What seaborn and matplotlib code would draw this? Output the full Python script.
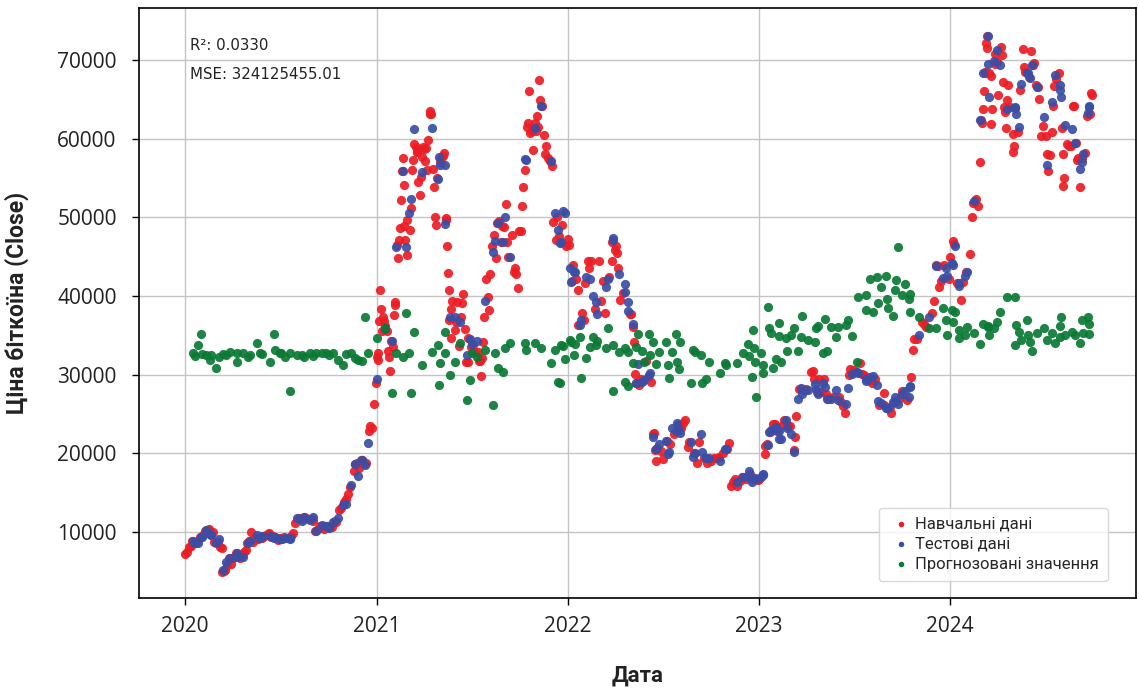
import matplotlib
matplotlib.use("Agg")
import matplotlib.pyplot as plt
import seaborn as sns
import pandas as pd
import matplotlib.dates as mdates

# ---------------- data ----------------
train_dates = [
    "2020-01-01","2020-01-05","2020-01-08","2020-01-12","2020-01-15","2020-01-19","2020-01-22","2020-01-29",
    "2020-02-05","2020-02-09","2020-02-13","2020-02-15","2020-02-19","2020-02-23","2020-02-26","2020-03-04",
    "2020-03-08","2020-03-11","2020-03-12","2020-03-16","2020-03-18","2020-03-22","2020-03-25","2020-03-29",
    "2020-04-01","2020-04-05","2020-04-08","2020-04-12","2020-04-15","2020-04-19","2020-04-23","2020-04-26",
    "2020-04-29","2020-05-03","2020-05-07","2020-05-10","2020-05-13","2020-05-20","2020-05-27","2020-05-31",
    "2020-06-03","2020-06-07","2020-06-10","2020-06-14","2020-06-17","2020-06-24","2020-06-27","2020-07-01",
    "2020-07-05","2020-07-08","2020-07-14","2020-07-22","2020-07-26","2020-07-29","2020-08-05","2020-08-09",
    "2020-08-16","2020-08-19","2020-08-23","2020-08-30","2020-09-02","2020-09-05","2020-09-12","2020-09-15",
    "2020-09-22","2020-09-24","2020-09-30","2020-10-04","2020-10-07","2020-10-13","2020-10-16","2020-10-21",
    "2020-10-25","2020-10-31","2020-11-04","2020-11-07","2020-11-11","2020-11-18","2020-11-21","2020-11-25",
    "2020-11-29","2020-12-02","2020-12-05","2020-12-12","2020-12-17","2020-12-20","2020-12-23","2020-12-27",
    "2020-12-30",
    "2021-01-03","2021-01-06","2021-01-08","2021-01-10","2021-01-13","2021-01-15","2021-01-20","2021-01-22",
    "2021-01-27","2021-02-01","2021-02-03","2021-02-06","2021-02-10","2021-02-13","2021-02-17","2021-02-21",
    "2021-02-23","2021-02-25","2021-02-28","2021-03-05","2021-03-10","2021-03-14","2021-03-17","2021-03-20",
    "2021-03-24","2021-03-31","2021-04-03","2021-04-07","2021-04-10","2021-04-13","2021-04-14","2021-04-18",
    "2021-04-21","2021-04-25","2021-05-03","2021-05-07","2021-05-09","2021-05-13","2021-05-16","2021-05-19",
    "2021-05-23","2021-05-26","2021-05-30","2021-06-03","2021-06-07","2021-06-13","2021-06-15","2021-06-18",
    "2021-06-21","2021-06-25","2021-07-01","2021-07-05","2021-07-08","2021-07-15","2021-07-18","2021-07-20",
    "2021-07-24","2021-07-30","2021-08-03","2021-08-06","2021-08-09","2021-08-13","2021-08-18","2021-08-23",
    "2021-08-26","2021-09-01","2021-09-06","2021-09-07","2021-09-10","2021-09-16","2021-09-20","2021-09-22",
    "2021-09-28","2021-10-01","2021-10-05","2021-10-08","2021-10-15","2021-10-18","2021-10-20","2021-10-24",
    "2021-10-27","2021-11-03","2021-11-06","2021-11-08","2021-11-10","2021-11-16","2021-11-19","2021-11-24",
    "2021-11-28","2021-12-04","2021-12-10","2021-12-12","2021-12-21","2021-12-29",
    "2022-01-02","2022-01-09","2022-01-12","2022-01-17","2022-01-21","2022-01-29","2022-02-02","2022-02-09",
    "2022-02-15","2022-02-22","2022-03-01","2022-03-05","2022-03-09","2022-03-13","2022-03-22","2022-03-26",
    "2022-04-02","2022-04-05","2022-04-11","2022-04-16","2022-04-30","2022-05-03","2022-05-09","2022-05-12",
    "2022-05-18","2022-05-21","2022-05-30","2022-06-03","2022-06-10","2022-06-13","2022-06-18","2022-06-21",
    "2022-06-28","2022-07-02","2022-07-09","2022-07-16","2022-07-23","2022-07-30","2022-08-06","2022-08-10",
    "2022-08-14","2022-08-19","2022-08-21","2022-08-31","2022-09-06","2022-09-09","2022-09-18","2022-09-25",
    "2022-10-02","2022-10-08","2022-10-13","2022-10-17","2022-10-25","2022-11-01","2022-11-05","2022-11-09",
    "2022-11-13","2022-11-17","2022-11-21","2022-11-26","2022-12-01","2022-12-07","2022-12-15","2022-12-30",
    "2023-01-02","2023-01-13","2023-01-14","2023-01-16","2023-01-22","2023-01-29","2023-02-01","2023-02-05",
    "2023-02-16","2023-02-19","2023-02-27","2023-03-02","2023-03-09","2023-03-12","2023-03-14","2023-03-20",
    "2023-03-26","2023-03-30","2023-04-02","2023-04-11","2023-04-14","2023-04-17","2023-04-22","2023-04-27",
    "2023-05-01","2023-05-05","2023-05-09","2023-05-14","2023-05-23","2023-06-04","2023-06-08","2023-06-12",
    "2023-06-15","2023-06-22","2023-06-24","2023-07-02","2023-07-13","2023-07-17","2023-07-21","2023-07-30",
    "2023-08-05","2023-08-12","2023-08-19","2023-08-28","2023-08-29","2023-09-08","2023-09-11","2023-09-17",
    "2023-09-28","2023-10-01","2023-10-11","2023-10-20","2023-10-23","2023-10-25","2023-10-30","2023-11-09",
    "2023-11-13","2023-11-16","2023-11-28","2023-12-02","2023-12-05","2023-12-09","2023-12-12","2023-12-16",
    "2023-12-22","2023-12-30",
    "2024-01-02","2024-01-08","2024-01-10","2024-01-14","2024-01-23","2024-01-26","2024-02-01","2024-02-08",
    "2024-02-12","2024-02-14","2024-02-20","2024-02-24","2024-02-27","2024-03-01","2024-03-05","2024-03-08",
    "2024-03-11","2024-03-13","2024-03-19","2024-03-20","2024-03-27","2024-04-02","2024-04-08","2024-04-12",
    "2024-04-13","2024-04-17","2024-04-22","2024-04-26","2024-05-01","2024-05-10","2024-05-15","2024-05-20",
    "2024-05-24","2024-06-05","2024-06-10","2024-06-13","2024-06-19","2024-06-24","2024-06-27","2024-07-03",
    "2024-07-07","2024-07-10","2024-07-17","2024-07-22","2024-07-28","2024-08-04","2024-08-05","2024-08-12",
    "2024-08-16","2024-08-25","2024-08-29","2024-09-03","2024-09-06","2024-09-16","2024-09-19","2024-09-27",
    "2024-09-29",
]
train_close = [
    7200, 7410, 8080, 8190, 8820, 8700, 8680, 9390,
    9610, 10170, 10240, 10370, 9600, 9980, 8780, 8760,
    8040, 7920, 4970, 5010, 5230, 5830, 6680, 5880,
    6640, 6780, 7300, 6910, 6640, 7120, 7500, 7700,
    8660, 8900, 9950, 8760, 9270, 9080, 9200, 9450,
    9670, 9740, 9890, 9390, 9450, 9280, 9000, 9230,
    9080, 9430, 9250, 9530, 9930, 11100, 11750, 11680,
    11850, 11760, 11680, 11710, 11400, 10130, 10440, 10790,
    10420, 10730, 10780, 10680, 10670, 11430, 11320, 12820,
    13030, 13800, 14140, 14830, 15700, 17800, 18680, 18730,
    18180, 19200, 19150, 18800, 22800, 23500, 23240, 26300,
    28990,
    32780, 36770, 40800, 38350, 37320, 36830, 35550, 33000,
    30430, 33540, 37620, 39270, 44800, 47170, 52150, 57540,
    48900, 47100, 45200, 48400, 56000, 59300, 58900, 58300,
    52800, 58900, 57100, 56000, 59800, 63500, 63100, 56200,
    53800, 49000, 57000, 57800, 58200, 49700, 46400, 37000,
    34700, 39300, 35700, 39200, 33600, 39100, 40200, 35800,
    31600, 31600, 33500, 33800, 32900, 31800, 31800, 29800,
    34200, 42200, 38200, 42800, 46400, 47800, 44800, 49500,
    46800, 48800, 51700, 46800, 44900, 47700, 43000, 43600,
    41000, 48200, 51500, 53800, 61500, 62000, 66000, 61000,
    58500, 62900, 61500, 67500, 64900, 60400, 58100, 57600,
    57200, 49400, 47100, 50100, 49000, 46400,
    47300, 41900, 43900, 42200, 36300, 37900, 36900, 44400,
    44500, 38400, 44400, 39400, 41900, 37800, 42400, 44500,
    45800, 45500, 39500, 40400, 37700, 37700, 30100, 28900,
    28700, 29400, 31700, 29700, 29100, 22500, 19000, 20700,
    20300, 19300, 21600, 21200, 22500, 23600, 23200, 23900,
    24300, 20800, 21500, 20000, 18800, 21400, 19400, 18800,
    19000, 19400, 19400, 19500, 20100, 20500, 21300, 15900,
    16300, 16700, 15800, 16500, 17000, 16800, 17400, 16600,
    16700, 19900, 20900, 21200, 22700, 23700, 23700, 22900,
    23600, 24300, 23500, 23500, 20400, 22100, 24700, 28200,
    28000, 28000, 28200, 30300, 30500, 29400, 27800, 29500,
    27800, 29500, 27600, 26900, 27200, 27100, 26500, 26000,
    25100, 29900, 30700, 30600, 31500, 30100, 29900, 29300,
    29000, 29400, 26100, 26100, 27700, 25900, 25100, 26500,
    27000, 27900, 26800, 29700, 33100, 34500, 34500, 36700,
    36500, 36100, 37800, 39400, 44000, 43800, 41200, 41900,
    44000, 42100,
    44900, 47000, 46600, 41700, 39500, 41800, 43100, 45300,
    50000, 51800, 52300, 51500, 57000, 62400, 63800, 68300,
    72100, 73100, 61900, 67900, 69500, 65500, 71600, 67200,
    64000, 61300, 66800, 64000, 58300, 60800, 66200, 71400,
    68500, 71100, 69600, 66800, 65000, 60300, 61600, 60300,
    55900, 57900, 64100, 67600, 68300, 58100, 54000, 59300,
    59000, 64200, 59400, 57500, 53900, 58200, 62900, 65800,
    65600,
]

# additional training days in the dense, volatile stretches
train_extra_dates = [
    "2021-01-02","2021-01-04","2021-01-11","2021-01-18","2021-01-25","2021-01-29","2021-02-05","2021-02-09",
    "2021-02-15","2021-02-19","2021-02-22","2021-03-01","2021-03-07","2021-03-12","2021-03-19","2021-03-22",
    "2021-03-26","2021-03-29","2021-04-01","2021-04-05","2021-04-15","2021-04-23","2021-04-27","2021-05-05",
    "2021-05-14","2021-05-18","2021-05-20","2021-05-24","2021-06-01","2021-06-11","2021-06-24","2021-07-13",
    "2021-07-22","2021-07-26","2021-08-01","2021-08-20","2021-08-28","2021-09-24","2021-10-03","2021-10-12",
    "2021-10-22","2021-10-30","2021-11-01","2021-11-13","2021-11-21","2021-12-02","2021-12-16",
    "2022-01-03","2022-01-20","2022-02-04","2022-02-10","2022-03-27","2022-04-03","2022-04-07","2022-05-06",
    "2022-05-08","2022-06-15","2022-06-16",
    "2024-03-02","2024-03-06","2024-03-09","2024-03-12","2024-03-17","2024-03-22","2024-03-28","2024-04-01",
    "2024-04-10","2024-04-15","2024-04-20","2024-04-30","2024-05-02","2024-05-22","2024-06-01","2024-06-08",
    "2024-06-17","2024-07-04","2024-07-14","2024-07-19","2024-08-02","2024-08-07","2024-08-20","2024-08-23",
    "2024-09-01","2024-09-10","2024-09-25",
]
train_extra_close = [
    32200, 31900, 35500, 36200, 32300, 34300, 38900, 46500,
    48700, 55900, 54100, 49600, 51200, 57300, 58300, 54500,
    55100, 57700, 58700, 58800, 63100, 50000, 55000, 57500,
    49900, 42900, 40800, 38400, 36700, 37300, 34700, 32900,
    32100, 37300, 39900, 49300, 48900, 42800, 48200, 56000,
    60700, 62000, 61000, 64100, 59000, 56500, 47600,
    46500, 40700, 41600, 43500, 46800, 46400, 43500, 36000,
    34100, 22600, 20400,
    62000, 66100, 68500, 71500, 68400, 63800, 70700, 69700,
    70600, 63400, 64900, 60600, 59100, 69100, 67800, 69300,
    66500, 58000, 60800, 66700, 61400, 55000, 59000, 64100,
    57300, 57600, 63100,
]

test_dates = [
    "2020-01-16","2020-01-21","2020-01-26","2020-01-31","2020-02-02","2020-02-11","2020-02-17","2020-02-20",
    "2020-03-01","2020-03-06","2020-03-14","2020-03-20","2020-03-26","2020-04-09","2020-04-10","2020-04-21",
    "2020-04-30","2020-05-04","2020-05-17","2020-05-23","2020-05-28","2020-06-12","2020-06-19","2020-06-20",
    "2020-06-30","2020-07-03","2020-07-10","2020-07-19","2020-07-20","2020-08-01","2020-08-11","2020-08-16",
    "2020-08-26","2020-09-01","2020-09-08","2020-09-18","2020-09-27","2020-10-03","2020-10-10","2020-10-19",
    "2020-10-29","2020-11-03","2020-11-14","2020-11-20","2020-11-27","2020-12-04","2020-12-09","2020-12-16",
    "2021-01-01","2021-01-17","2021-01-30","2021-02-08","2021-02-20","2021-02-27","2021-03-03","2021-03-08",
    "2021-03-13","2021-03-28","2021-04-16","2021-04-28","2021-04-30","2021-05-02","2021-05-11","2021-05-12",
    "2021-05-21","2021-05-31","2021-06-10","2021-06-22","2021-06-28","2021-07-02","2021-07-11","2021-07-27",
    "2021-08-11","2021-08-15","2021-08-21","2021-08-30","2021-09-03","2021-09-13","2021-10-11","2021-10-14",
    "2021-10-31","2021-11-12","2021-12-01","2021-12-07","2021-12-14","2021-12-17","2021-12-20","2021-12-23",
    "2021-12-27",
    "2022-01-05","2022-01-08","2022-01-14","2022-01-15","2022-01-24","2022-01-27","2022-02-06","2022-02-12",
    "2022-02-18","2022-02-25","2022-02-27","2022-03-16","2022-03-19","2022-03-28","2022-03-29","2022-04-09",
    "2022-04-20","2022-04-21","2022-04-26","2022-04-27","2022-05-05","2022-05-11","2022-05-15","2022-05-24",
    "2022-05-26","2022-06-05","2022-06-08","2022-06-14","2022-06-19","2022-06-24","2022-07-07","2022-07-11",
    "2022-07-13","2022-07-20","2022-07-27","2022-07-29","2022-08-02","2022-08-04","2022-08-24","2022-08-28",
    "2022-09-01","2022-09-12","2022-09-14","2022-09-22","2022-09-28","2022-10-20","2022-10-28","2022-10-30",
    "2022-11-20","2022-12-03","2022-12-11","2022-12-14","2022-12-19","2022-12-21","2022-12-23","2022-12-25",
    "2022-12-27",
    "2023-01-06","2023-01-09","2023-01-10","2023-01-19","2023-01-20","2023-01-25","2023-01-28","2023-02-03",
    "2023-02-08","2023-02-09","2023-02-13","2023-02-22","2023-02-24","2023-03-04","2023-03-10","2023-03-18",
    "2023-03-23","2023-03-24","2023-04-06","2023-04-19","2023-04-20","2023-04-24","2023-05-03","2023-05-07",
    "2023-05-11","2023-05-19","2023-05-28","2023-06-01","2023-06-17","2023-06-20","2023-06-28","2023-07-07",
    "2023-07-09","2023-07-25","2023-07-26","2023-08-02","2023-08-08","2023-08-16","2023-08-17","2023-08-23",
    "2023-09-01","2023-09-04","2023-09-05","2023-09-14","2023-09-19","2023-09-21","2023-09-24","2023-10-02",
    "2023-10-08","2023-10-15","2023-10-17","2023-10-18","2023-11-04","2023-11-23","2023-12-06","2023-12-19",
    "2023-12-25","2023-12-26",
    "2024-01-05","2024-01-07","2024-01-11","2024-01-18","2024-01-19","2024-01-31","2024-02-03","2024-02-16",
    "2024-02-28","2024-03-04","2024-03-14","2024-03-15","2024-03-16","2024-03-25","2024-03-31","2024-04-07",
    "2024-04-19","2024-05-04","2024-05-05","2024-05-07","2024-05-12","2024-05-17","2024-05-28","2024-05-30",
    "2024-06-02","2024-06-07","2024-06-16","2024-06-30","2024-07-05","2024-07-15","2024-07-21","2024-07-29",
    "2024-07-30","2024-08-01","2024-08-08","2024-08-22","2024-08-27","2024-09-05","2024-09-09","2024-09-12",
    "2024-09-21","2024-09-23","2024-09-24",
]
test_close = [
    8800, 8660, 8600, 9350, 9380, 10250, 9700, 9600,
    8550, 9120, 5200, 6200, 6750, 7300, 6860, 6850,
    8650, 8900, 9670, 9180, 9550, 9470, 9300, 9350,
    9140, 9080, 9270, 9200, 9160, 11800, 11400, 11850,
    11470, 11950, 10130, 10940, 10750, 10550, 11300, 11750,
    13450, 13550, 16000, 18650, 17150, 19150, 18550, 21300,
    29400, 35800, 34300, 46200, 55900, 46200, 50500, 52300,
    61200, 55800, 61400, 54900, 57700, 56600, 56700, 49100,
    37300, 37300, 36700, 32500, 34500, 33900, 34250, 39300,
    45600, 47000, 49300, 46800, 50000, 44900, 57400, 57300,
    61300, 64100, 57200, 50600, 48400, 46700, 46900, 50800,
    50600,
    43500, 41800, 43000, 43100, 36300, 37000, 42400, 42200,
    40000, 39200, 37700, 41100, 42200, 47100, 47400, 42800,
    41500, 40500, 38100, 39200, 36500, 29000, 31300, 29100,
    29300, 29900, 30200, 22100, 20500, 21200, 21600, 19900,
    20200, 23200, 22900, 23800, 23000, 22600, 21400, 19600,
    20100, 22400, 20200, 19400, 19400, 19000, 20600, 20600,
    16300, 17000, 17100, 17800, 16400, 16800, 16800, 16850,
    16700,
    16950, 17200, 17400, 21100, 22700, 23000, 23000, 23400,
    22900, 21800, 21800, 24200, 23200, 22400, 20200, 26900,
    28300, 27500, 28000, 28800, 28200, 27500, 29000, 28400,
    26900, 26900, 28100, 26800, 26300, 28300, 30100, 30300,
    30200, 29200, 29400, 29700, 29800, 28700, 26600, 26400,
    25800, 25800, 25800, 26500, 27200, 26600, 26300, 27500,
    27900, 27200, 28500, 28400, 35000, 37300, 43800, 42300,
    43600, 42500,
    44200, 43900, 46300, 41300, 41600, 42600, 43000, 52100,
    62400, 68300, 73100, 69500, 65300, 69900, 71300, 69400,
    63800, 63900, 64000, 63100, 61500, 67000, 68400, 68300,
    67700, 69300, 66600, 62700, 56700, 64700, 68100, 66800,
    66200, 65300, 61700, 61200, 59400, 56200, 57000, 58100,
    63300, 64000, 64200,
]
pred_close = [
    32700, 32400, 33760, 35150, 32600, 32490, 31860, 32500,
    30800, 32280, 32650, 32500, 32900, 32700, 31650, 32700,
    32300, 32500, 33980, 32700, 32600, 31650, 35150, 33120,
    32700, 32800, 32300, 27950, 32700, 32500, 32500, 32200,
    32790, 32400, 32700, 32700, 32700, 32500, 32700, 31900,
    31220, 32600, 32700, 32100, 31900, 31800, 37360, 32700,
    34650, 35930, 27660, 32740, 32230, 37830, 32740, 27660,
    35420, 31220, 32870, 33760, 28690, 31470, 35420, 32740,
    29960, 31600, 34010, 26810, 29320, 32740, 32230, 33120,
    26170, 32740, 30840, 30330, 33380, 34010, 34010, 33120,
    34010, 33380, 31470, 33120, 29070, 29000, 33760, 33700,
    31980,
    34390, 34200, 32490, 33890, 34820, 29610, 32100, 33540,
    34820, 33760, 34310, 33380, 35930, 33760, 27920, 32910,
    33420, 29100, 32870, 28560, 31470, 33540, 35160, 33040,
    31600, 35160, 32490, 34140, 31350, 32870, 34180, 31220,
    29610, 32870, 35160, 31650, 30710, 34180, 28940, 33120,
    32910, 32490, 28940, 29450, 31600, 30240, 31470, 31220,
    31470, 32740, 33890, 32360, 29740, 35670, 33380, 31650,
    27190,
    32740, 31220, 30240, 38630, 35960, 35290, 30840, 31980,
    34900, 36560, 31600, 34650, 33000, 35040, 35930, 33040,
    34820, 37480, 34400, 34180, 35930, 36180, 32740, 37070,
    33040, 36090, 34820, 36090, 36310, 36940, 34900, 31600,
    39890, 40110, 38210, 42150, 38000, 42370, 39060, 41110,
    42570, 39610, 38430, 37450, 40750, 42020, 46180, 40110,
    41510, 39610, 38000, 40240, 37360, 35870, 35870, 38430,
    36940, 35040,
    38210, 36720, 38000, 34610, 35670, 35040, 36090, 35250,
    33890, 36430, 36000, 36180, 35040, 35870, 36720, 38000,
    39900, 39900, 33760, 36310, 35460, 34400, 36940, 35040,
    34180, 33040, 35250, 35870, 34400, 35330, 33980, 36180,
    34820, 37360, 35040, 35460, 35040, 34060, 36940, 35330,
    37360, 36430, 35220,
]

r2_text = "R²: 0.0330"
mse_text = "MSE: 324125455.01"
labels = ["Навчальні дані", "Тестові дані", "Прогнозовані значення"]
colors = ["#ec1c24", "#3a4ea6", "#0b7a35"]

# ---------------- plot ----------------
sns.set_theme(style="whitegrid")
plt.rcParams["font.family"] = ["Open Sans", "DejaVu Sans"]
NARROW = ["Roboto", "DejaVu Sans"]

train = pd.DataFrame({"Date": pd.to_datetime(train_dates + train_extra_dates),
                      "Close": train_close + train_extra_close}).sort_values("Date")
test = pd.DataFrame({"Date": pd.to_datetime(test_dates), "Close": test_close})
pred = pd.DataFrame({"Date": pd.to_datetime(test_dates), "Close": pred_close})

fig, ax = plt.subplots(figsize=(11.39, 6.93), dpi=100)
fig.subplots_adjust(left=0.122, right=0.9974, top=0.988, bottom=0.137)

kw = dict(s=44, linewidth=0, alpha=0.92, ax=ax)
sns.scatterplot(data=train, x="Date", y="Close", color=colors[0], label=labels[0], **kw)
sns.scatterplot(data=test, x="Date", y="Close", color=colors[1], label=labels[1], **kw)
sns.scatterplot(data=pred, x="Date", y="Close", color=colors[2], label=labels[2], **kw)

ax.set_xlim(pd.Timestamp("2019-10-05"), pd.Timestamp("2024-12-22"))
ax.set_ylim(1610, 76560)
ax.xaxis.set_major_locator(mdates.YearLocator())
ax.xaxis.set_major_formatter(mdates.DateFormatter("%Y"))

ax.grid(True, color="#c4c4c4", linewidth=1.0)
for sp in ax.spines.values():
    sp.set_color("black")
    sp.set_linewidth(1.2)
ax.tick_params(axis="both", which="major", direction="out", length=5, width=1,
               color="black", labelsize=15, labelcolor="#222222", bottom=True, left=True, pad=8)
ax.tick_params(axis="y", pad=11)

ax.set_xlabel("Дата", fontsize=16, fontweight="bold", labelpad=20, color="#222222", family=NARROW)
ax.set_ylabel("Ціна біткоїна (Close)", fontsize=16.5, fontweight="bold", labelpad=20, color="#222222",
              family=NARROW)

ax.text(0.051, 0.937, r2_text, transform=ax.transAxes, fontsize=10.8,
        family="DejaVu Sans", va="center", ha="left", color="#222222")
ax.text(0.051, 0.888, mse_text, transform=ax.transAxes, fontsize=10.8,
        family="DejaVu Sans", va="center", ha="left", color="#222222")

leg = ax.legend(loc="lower right", markerscale=0.6, frameon=True,
                borderpad=0.55, handletextpad=0.1, labelspacing=0.3, handlelength=1.5,
                bbox_to_anchor=(0.98, 0.015), prop={"family": NARROW, "size": 12})
leg.get_frame().set_edgecolor("#d0d0d0")
leg.get_frame().set_facecolor("white")
for h in leg.legend_handles:
    h.set_alpha(1)

fig.savefig("out.png", dpi=100)
